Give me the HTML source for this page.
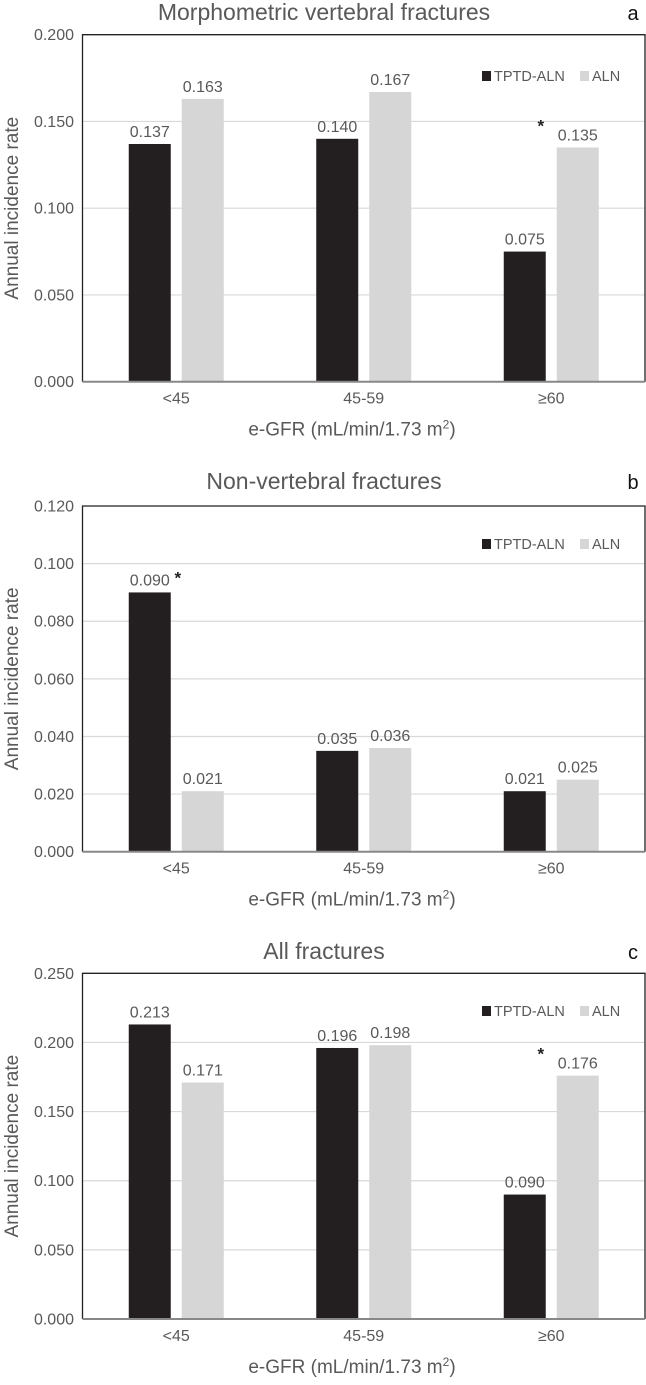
<!DOCTYPE html>
<html><head><meta charset="utf-8"><style>
html,body{margin:0;padding:0;background:#fff;}
svg{display:block;font-family:"Liberation Sans",sans-serif;}
</style></head><body>
<svg id="chart" width="646" height="1385" viewBox="0 0 646 1385"></svg>
<script>
const categories = ["<45", "45-59", "\u226560"];
const seriesNames = ["TPTD-ALN", "ALN"];
const titles = ["Morphometric vertebral fractures", "Non-vertebral fractures", "All fractures"];
const panelLetters = ["a", "b", "c"];
const morphTPTD = [0.137, 0.140, 0.075];
const morphALN = [0.163, 0.167, 0.135];
const nonvertTPTD = [0.090, 0.035, 0.021];
const nonvertALN = [0.021, 0.036, 0.025];
const allTPTD = [0.213, 0.196, 0.090];
const allALN = [0.171, 0.198, 0.176];
const morphTicks = ["0.000", "0.050", "0.100", "0.150", "0.200"];
const nonvertTicks = ["0.000", "0.020", "0.040", "0.060", "0.080", "0.100", "0.120"];
const allTicks = ["0.000", "0.050", "0.100", "0.150", "0.200", "0.250"];
// significance markers: [category index, series index]
const morphStar = [2, 1];
const nonvertStar = [0, 0];
const allStar = [2, 1];

const NS = "http://www.w3.org/2000/svg";
const svg = document.getElementById("chart");
function mk(tag, attrs, parent, text) {
  const e = document.createElementNS(NS, tag);
  for (const k in attrs) e.setAttribute(k, attrs[k]);
  if (text !== undefined) e.textContent = text;
  (parent || svg).appendChild(e);
  return e;
}

const layouts = [
  {titleY: 20, top: 34.7, bottom: 381.7, legendY: 76},
  {titleY: 489, top: 506, bottom: 851.7, legendY: 544},
  {titleY: 959, top: 973.3, bottom: 1319, legendY: 1011}
];
const panels = [
  {t: morphTPTD, a: morphALN, ticks: morphTicks, star: morphStar},
  {t: nonvertTPTD, a: nonvertALN, ticks: nonvertTicks, star: nonvertStar},
  {t: allTPTD, a: allALN, ticks: allTicks, star: allStar}
];
const left = 82.5, right = 645;
const colors = ["#231f20", "#d6d6d6"];

panels.forEach((p, pi) => {
  const L = layouts[pi];
  const g = mk("g", {});
  
  
  const maxV = parseFloat(p.ticks[p.ticks.length - 1]);
  const y = v => L.bottom - (v / maxV) * (L.bottom - L.top);
  const catW = (right - left) / categories.length;
  const xc = i => left + catW * (i + 0.5);
  const barW = 42, gap = 11;
  const barX = (i, s) => s === 0 ? xc(i) - gap / 2 - barW : xc(i) + gap / 2;

  const title = mk("text", {x: 324, y: L.titleY, "text-anchor": "middle", "font-size": 23, fill: "#595959"}, g, titles[pi]);
  
  
  const letter = mk("text", {x: 633, y: L.titleY, "text-anchor": "middle", "font-size": 20, fill: "#111"}, g, panelLetters[pi]);
  
  

  p.ticks.forEach((tk, ti) => {
    const v = parseFloat(tk);
    const yy = y(v);
    if (ti > 0 && ti < p.ticks.length - 1) {
      const gl = mk("line", {x1: left, x2: right, y1: yy, y2: yy, stroke: "#d9d9d9", "stroke-width": 1.2}, g);
      
      
    }
    const tl = mk("text", {x: 74, y: yy + 5.5, "text-anchor": "end", "font-size": 16, fill: "#595959"}, g, tk);
    
    
  });

  const frame = mk("path", {d: `M${left},${L.bottom} L${left},${L.top} L${right},${L.top} L${right},${L.bottom}`, fill: "none", stroke: "#222", "stroke-width": 1.3}, g);
  
  

  [p.t, p.a].forEach((vals, s) => {
    vals.forEach((v, i) => {
      const r = mk("rect", {x: barX(i, s), y: y(v), width: barW, height: L.bottom - y(v), fill: colors[s]}, g);
      
      
      const lb = mk("text", {x: barX(i, s) + barW / 2, y: y(v) - 7, "text-anchor": "middle", "font-size": 16, fill: "#595959"}, g, v.toFixed(3));
      
      
    });
  });

  const ax = mk("line", {x1: left, x2: right, y1: L.bottom, y2: L.bottom, stroke: "#888", "stroke-width": 2}, g);
  
  

  const si = p.star[0], ss = p.star[1];
  const sv = [p.t, p.a][ss][si];
  const sx = ss === 1 ? barX(si, 1) - 16 : barX(si, 0) + barW + 7;
  const sy = ss === 1 ? y(sv) - 24 : y(sv) - 17;
  const st = mk("text", {x: sx, y: sy + 8, "text-anchor": "middle", "font-size": 17, "font-weight": "bold", fill: "#222"}, g, "*");
  
  

  categories.forEach((c, i) => {
    const cl = mk("text", {x: xc(i), y: L.bottom + 22, "text-anchor": "middle", "font-size": 16, fill: "#595959"}, g, c);
    
    
  });

  const xt = mk("text", {x: 352, y: L.bottom + 54, "text-anchor": "middle", "font-size": 19, fill: "#595959"}, g);
  
  
  mk("tspan", {}, xt, "e-GFR (mL/min/1.73 m");
  mk("tspan", {"font-size": 12, dy: -7}, xt, "2");
  mk("tspan", {dy: 7}, xt, ")");

  const ymid = (L.top + L.bottom) / 2;
  const yt = mk("text", {x: 0, y: 0, transform: `translate(18,${ymid}) rotate(-90)`, "text-anchor": "middle", "font-size": 19, fill: "#595959"}, g, "Annual incidence rate");
  
  

  const lx = [482, 580];
  seriesNames.forEach((n, s) => {
    const lg = mk("g", {}, g);
    
    
    mk("rect", {x: lx[s], y: L.legendY - 5, width: 9, height: 10, fill: colors[s]}, lg);
    mk("text", {x: lx[s] + 12, y: L.legendY + 5, "font-size": 14.5, fill: "#595959"}, lg, n);
  });
});
</script>
</body></html>
